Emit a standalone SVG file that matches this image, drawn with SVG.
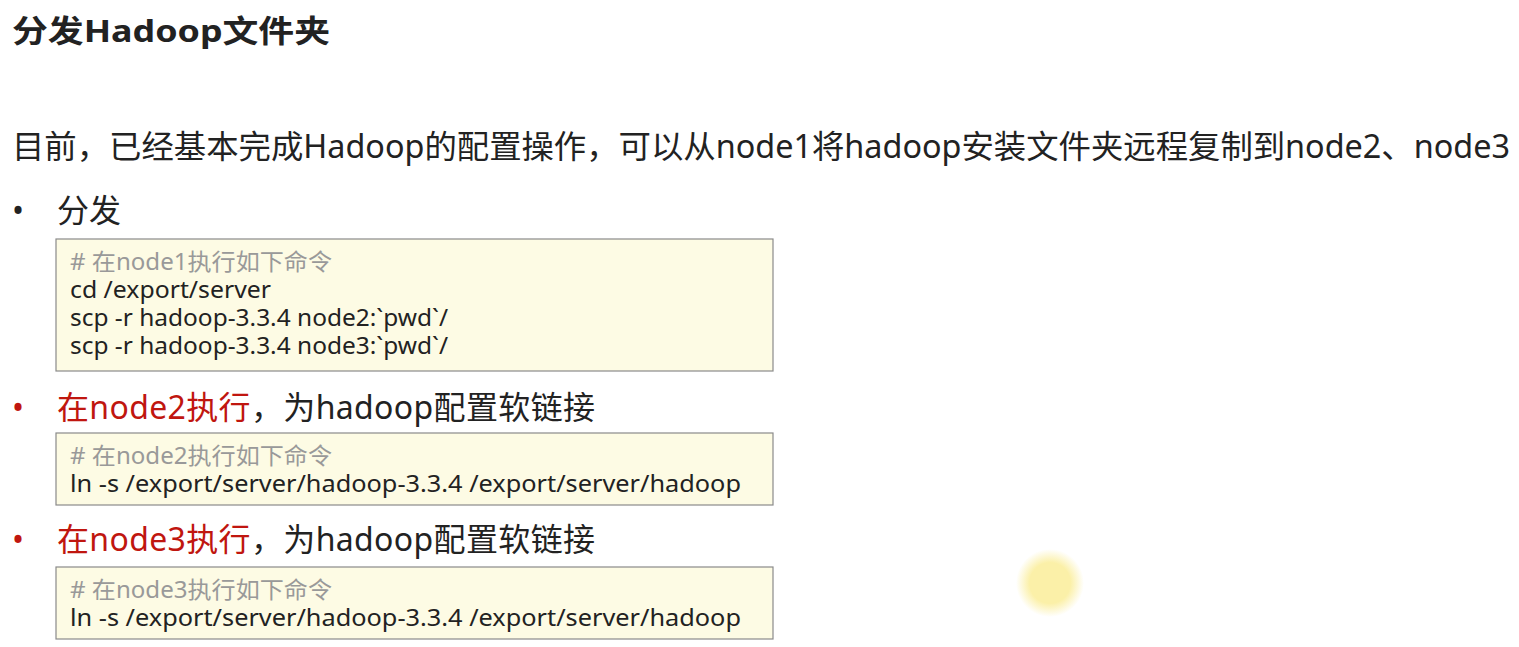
<svg xmlns="http://www.w3.org/2000/svg" width="1519" height="647" viewBox="0 0 1519 647">
<style>
text{font-family:"Noto Sans","Noto Sans CJK SC",sans-serif;fill:#222}
.t{font-size:32px}
.c{font-size:23px;fill:#222}
.g{fill:#999}
.box{fill:#fdfbe4;stroke:#8a8a8a;stroke-width:1.2}
.r{fill:#c0160f}
</style>
<defs><radialGradient id="y"><stop offset="0.6" stop-color="#fbf0a8"/><stop offset="1" stop-color="#fbf0a8" stop-opacity="0"/></radialGradient></defs>
<rect width="1519" height="647" fill="#fff"/>
<text x="12" y="42" style="font-size:31px;font-weight:bold" textLength="318" lengthAdjust="spacingAndGlyphs">分发Hadoop文件夹</text>
<text x="12" y="158" class="t" textLength="1498" lengthAdjust="spacingAndGlyphs">目前，已经基本完成Hadoop的配置操作，可以从node1将hadoop安装文件夹远程复制到node2、node3</text>
<g id="s1">
<text x="12" y="222" class="t">•</text><text x="57" y="222" class="t">分发</text>
<rect x="56" y="239" width="717" height="132" class="box"/>
<text x="70" y="270" class="c g" textLength="262" lengthAdjust="spacingAndGlyphs"># 在node1执行如下命令</text>
<text x="70" y="298" class="c" textLength="201" lengthAdjust="spacingAndGlyphs">cd /export/server</text>
<text x="70" y="326" class="c" textLength="378" lengthAdjust="spacingAndGlyphs">scp -r hadoop-3.3.4 node2:`pwd`/</text>
<text x="70" y="354" class="c" textLength="378" lengthAdjust="spacingAndGlyphs">scp -r hadoop-3.3.4 node3:`pwd`/</text>
</g>
<g id="s2">
<text x="12" y="419" class="t r">•</text><text x="57" y="419" class="t" textLength="538"><tspan class="r">在node2执行</tspan>，为hadoop配置软链接</text>
<rect x="56" y="433" width="717" height="72" class="box"/>
<text x="70" y="464" class="c g" textLength="262" lengthAdjust="spacingAndGlyphs"># 在node2执行如下命令</text>
<text x="70" y="492" class="c" textLength="671" lengthAdjust="spacingAndGlyphs">ln -s /export/server/hadoop-3.3.4 /export/server/hadoop</text>
</g>
<g id="s3">
<text x="12" y="551" class="t r">•</text><text x="57" y="551" class="t" textLength="538"><tspan class="r">在node3执行</tspan>，为hadoop配置软链接</text>
<rect x="56" y="567" width="717" height="72" class="box"/>
<text x="70" y="598" class="c g" textLength="262" lengthAdjust="spacingAndGlyphs"># 在node3执行如下命令</text>
<text x="70" y="626" class="c" textLength="671" lengthAdjust="spacingAndGlyphs">ln -s /export/server/hadoop-3.3.4 /export/server/hadoop</text>
</g>
<circle cx="1050" cy="583" r="34" fill="url(#y)"/>
</svg>
